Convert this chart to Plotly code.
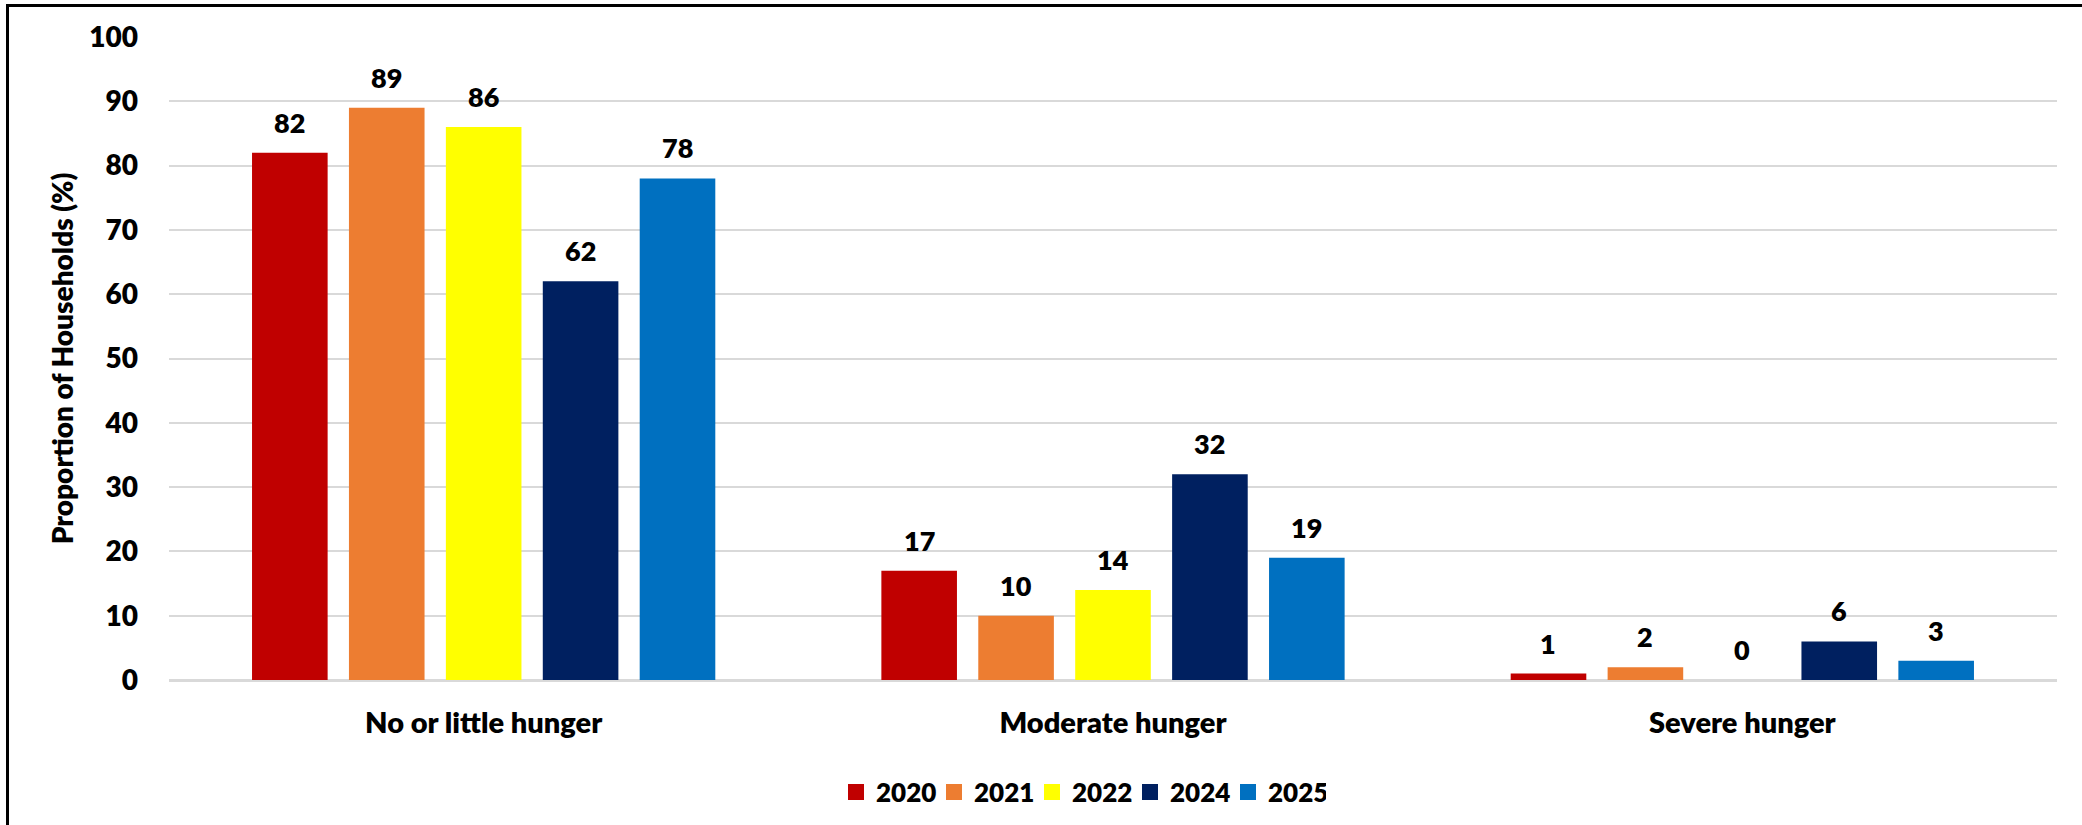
import plotly.graph_objects as go

# Household hunger scale by survey year
categories = ["No or little hunger", "Moderate hunger", "Severe hunger"]
years = ["2020", "2021", "2022", "2024", "2025"]
values_2020 = [82, 17, 1]
values_2021 = [89, 10, 2]
values_2022 = [86, 14, 0]
values_2024 = [62, 32, 6]
values_2025 = [78, 19, 3]
series = [values_2020, values_2021, values_2022, values_2024, values_2025]
colors = ["#C00000", "#ED7D31", "#FFFF00", "#002060", "#0070C0"]

y_ticks = list(range(0, 101, 10))

W, H = 2082, 825
M_L, M_R, M_T, M_B = 169, 25, 37, 145
plot_w = W - M_L - M_R
plot_h = H - M_T - M_B
BARGAP = 0.23
FONT = "Lato"
WEIGHT = 800

fig = go.Figure()
for year, vals, col in zip(years, series, colors):
    fig.add_trace(go.Bar(
        name=year, x=categories, y=vals, legendgroup=year, showlegend=False,
        marker=dict(color=col, line=dict(width=0)),
    ))

# legend entries with larger square swatches
for year, col in zip(years, colors):
    fig.add_trace(go.Scatter(
        name=year, x=[None], y=[None], mode="markers", legendgroup=year,
        marker=dict(symbol="square", size=16, color=col),
        hoverinfo="skip",
    ))

# value labels above each bar, shifted to the bar's slot within its group
slot_px = (1 - BARGAP) * (plot_w / len(categories)) / len(years)
for i, vals in enumerate(series):
    shift = (i - (len(years) - 1) / 2) * slot_px
    for cat, v in zip(categories, vals):
        fig.add_annotation(
            x=cat, y=v, text=str(v), showarrow=False,
            xshift=shift, yshift=12, yanchor="bottom",
            font=dict(family=FONT, size=27, color="black", weight=WEIGHT),
        )

# outer frame
def px_x(p):
    return (p - M_L) / plot_w

def px_y(p):
    return (H - M_B - p) / plot_h

fig.add_shape(type="rect", xref="paper", yref="paper",
              x0=px_x(7.5), x1=px_x(W + 20), y0=px_y(5.5), y1=px_y(H + 20),
              line=dict(color="black", width=3), fillcolor="rgba(0,0,0,0)", layer="above")

fig.update_layout(
    width=W, height=H,
    margin=dict(l=M_L, r=M_R, t=M_T, b=M_B, pad=0, autoexpand=False),
    paper_bgcolor="white", plot_bgcolor="white",
    barmode="group", bargap=BARGAP, bargroupgap=0.22,
    font=dict(family=FONT, size=26, color="black", weight=WEIGHT),
    showlegend=True,
    legend=dict(
        orientation="h", x=px_x(1081), xanchor="center",
        y=px_y(792), yanchor="middle",
        font=dict(family=FONT, size=26, color="black", weight=WEIGHT),
        entrywidth=53, entrywidthmode="pixels",
        itemsizing="trace", traceorder="normal",
    ),
    xaxis=dict(
        automargin=False,
        showgrid=False, showline=True, linecolor="#d9d9d9", linewidth=2,
        ticks="", ticklabelstandoff=16,
        tickfont=dict(family=FONT, size=29, color="black", weight=WEIGHT),
    ),
    yaxis=dict(
        automargin=False,
        range=[0, 100], tickvals=y_ticks, showgrid=True,
        gridcolor="#d9d9d9", gridwidth=2,
        zeroline=True, zerolinecolor="#d9d9d9", zerolinewidth=2,
        showline=False, ticks="", ticklabelstandoff=30,
        tickfont=dict(family=FONT, size=28, color="black", weight=WEIGHT),
        title=dict(text="Proportion of Households (%)", standoff=7,
                   font=dict(family=FONT, size=28, color="black", weight=WEIGHT)),
    ),
)

fig.write_html("out.html")
